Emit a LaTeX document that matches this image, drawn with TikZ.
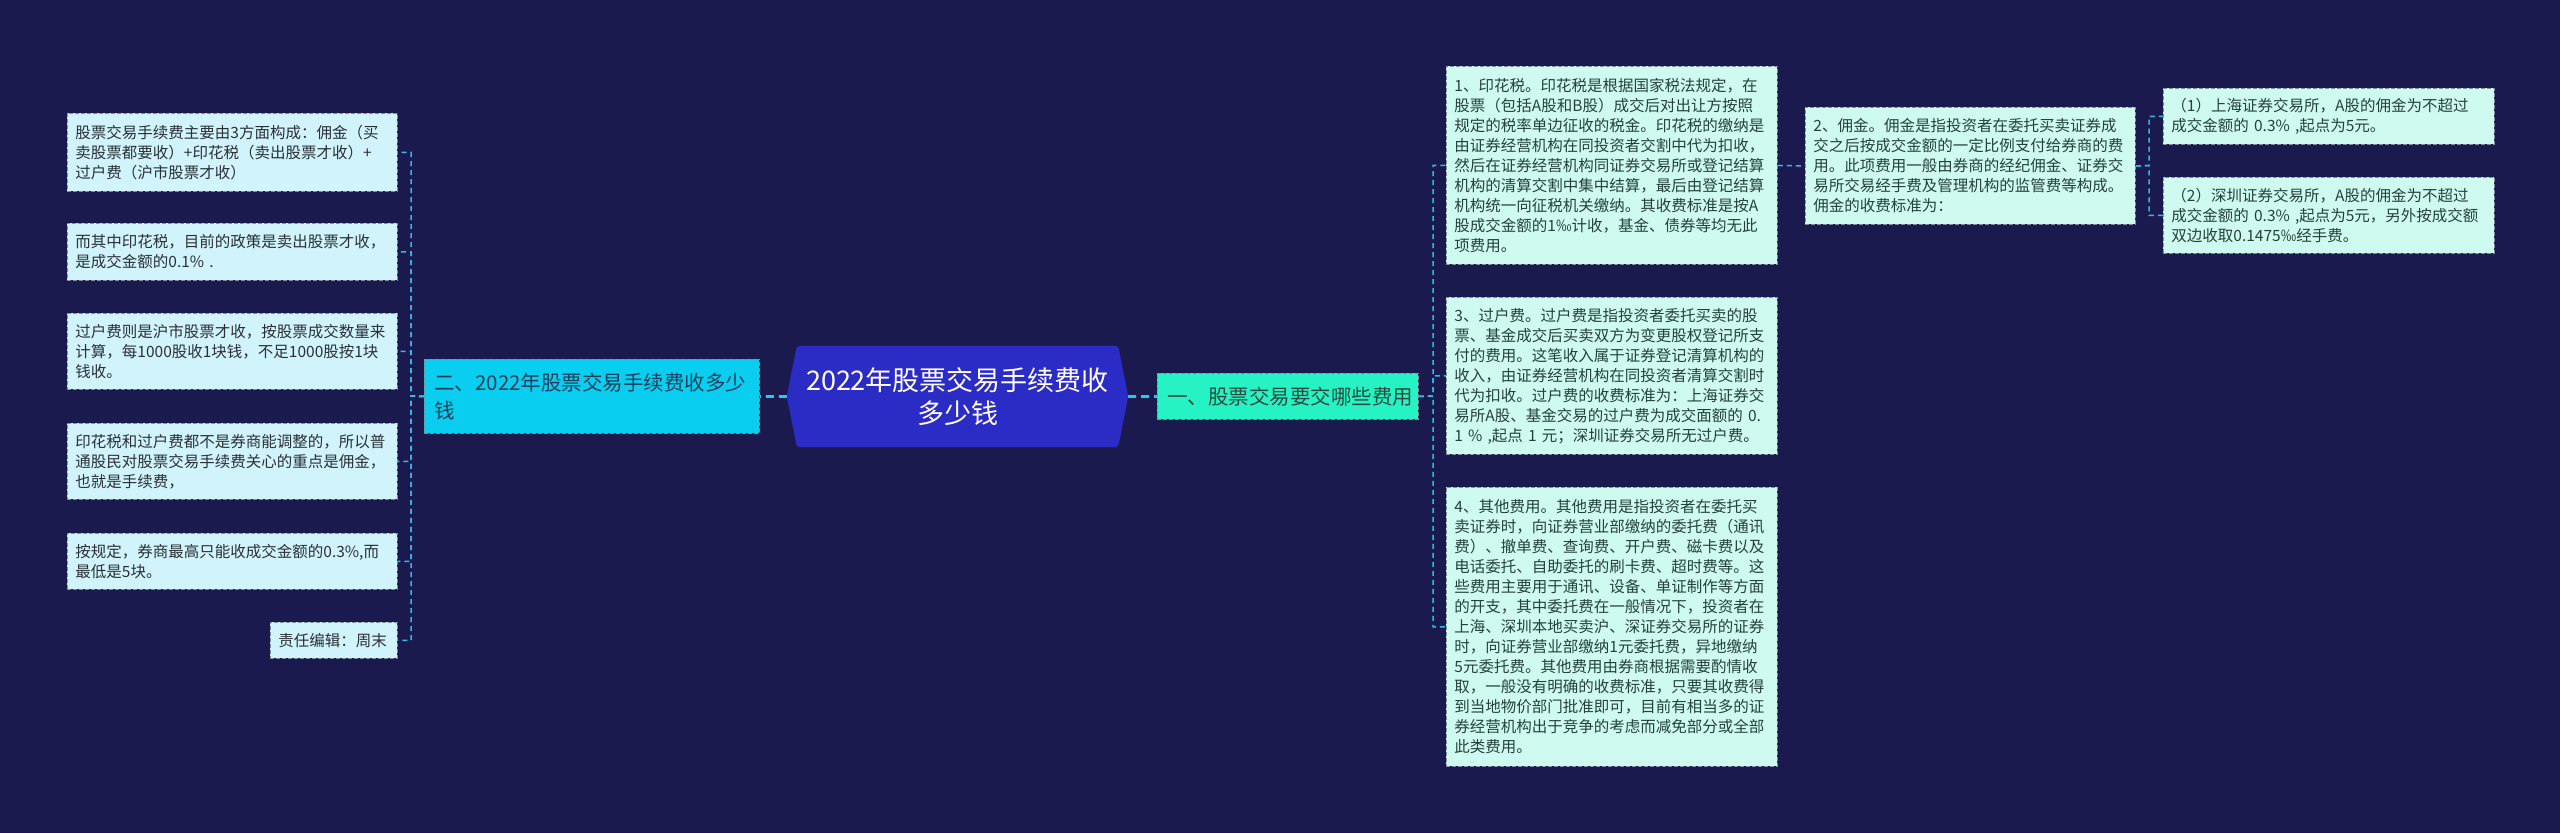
\documentclass[tikz,border=0pt]{standalone}
\usepackage{fontspec}
\setmainfont{Noto Sans CJK SC}
\usetikzlibrary{backgrounds}
\definecolor{bgc}{HTML}{1B1A4F}
\definecolor{rootc}{HTML}{2B2BC5}
\definecolor{lbc}{HTML}{0ACEEF}
\definecolor{rbc}{HTML}{26F3C4}
\definecolor{lfill}{HTML}{D0F3FC}
\definecolor{rfill}{HTML}{CEFAEF}
\definecolor{bordc}{HTML}{7F8E99}
\definecolor{connc}{HTML}{35B8E8}
\definecolor{mconnc}{HTML}{2AC8EE}
\definecolor{ltext}{HTML}{2A3036}
\definecolor{rtext}{HTML}{24423D}
\definecolor{lbtext}{HTML}{1E3D5C}
\definecolor{rbtext}{HTML}{2C4A40}
\tikzset{
  smallbox/.style={draw=bordc, line width=0.9pt, dash pattern=on 4pt off 2pt,
    anchor=north west, align=left, inner xsep=8pt, inner ysep=0pt,
    font=\fontsize{15.5}{20}\selectfont},
  lsmall/.style={smallbox, fill=lfill, text=ltext},
  rsmall/.style={smallbox, fill=rfill, text=rtext},
  branchbox/.style={draw=bordc, line width=0.9pt, dash pattern=on 4pt off 2pt,
    anchor=north west, align=left, inner xsep=10pt, inner ysep=0pt,
    font=\fontsize{20.5}{28}\selectfont},
  rootnode/.style={align=center, text=white, inner sep=0pt,
    font=\fontsize{27}{33}\selectfont},
  conn/.style={draw=connc, line width=1.5pt, dash pattern=on 5pt off 4pt},
  mainconn/.style={draw=mconnc, line width=2.8pt, dash pattern=on 8pt off 5pt},
}
\begin{document}
\begin{tikzpicture}[x=1pt,y=-1pt]
\useasboundingbox (0,0) rectangle (2560,833);
% root
\node[rootnode, minimum width=341pt, minimum height=101pt] (root) at (957.5,396.5)
  {2022年股票交易手续费收\\多少钱};
% branches
\node[branchbox, fill=lbc, text=lbtext, text width=315pt, minimum height=74pt] (LB) at (424,359)
  {二、2022年股票交易手续费收多少\\钱};
\node[branchbox, fill=rbc, text=rbtext, text width=241pt, minimum height=46pt] (RB) at (1157,373)
  {一、股票交易要交哪些费用};
% left column
\node[lsmall, text width=314pt, minimum height=78pt] (L1) at (67,113)
  {股票交易手续费主要由3方面构成：佣金（买\\卖股票都要收）+印花税（卖出股票才收）+\\过户费（沪市股票才收）};
\node[lsmall, text width=314pt, minimum height=57pt] (L2) at (67,223)
  {而其中印花税，目前的政策是卖出股票才收，\\是成交金额的0.1\% .};
\node[lsmall, text width=314pt, minimum height=76pt] (L3) at (67,313)
  {过户费则是沪市股票才收，按股票成交数量来\\计算，每1000股收1块钱，不足1000股按1块\\钱收。};
\node[lsmall, text width=314pt, minimum height=76pt] (L4) at (67,423)
  {印花税和过户费都不是券商能调整的，所以普\\通股民对股票交易手续费关心的重点是佣金，\\也就是手续费，};
\node[lsmall, text width=314pt, minimum height=56pt] (L5) at (67,533)
  {按规定，券商最高只能收成交金额的0.3\%,而\\最低是5块。};
\node[lsmall, text width=111pt, minimum height=36pt] (L6) at (270,622)
  {责任编辑：周末};
% right column
\node[rsmall, text width=315pt, minimum height=198pt] (R1) at (1446,66)
  {1、印花税。印花税是根据国家税法规定，在\\股票（包括A股和B股）成交后对出让方按照\\规定的税率单边征收的税金。印花税的缴纳是\\由证券经营机构在同投资者交割中代为扣收，\\然后在证券经营机构同证券交易所或登记结算\\机构的清算交割中集中结算，最后由登记结算\\机构统一向征税机关缴纳。其收费标准是按A\\股成交金额的1‰计收，基金、债券等均无此\\项费用。};
\node[rsmall, text width=315pt, minimum height=157pt] (R3) at (1446,297)
  {3、过户费。过户费是指投资者委托买卖的股\\票、基金成交后买卖双方为变更股权登记所支\\付的费用。这笔收入属于证券登记清算机构的\\收入，由证券经营机构在同投资者清算交割时\\代为扣收。过户费的收费标准为：上海证券交\\易所A股、基金交易的过户费为成交面额的 0.\\1 \% ,起点 1 元；深圳证券交易所无过户费。};
\node[rsmall, text width=315pt, minimum height=279pt] (R4) at (1446,487)
  {4、其他费用。其他费用是指投资者在委托买\\卖证券时，向证券营业部缴纳的委托费（通讯\\费）、撤单费、查询费、开户费、磁卡费以及\\电话委托、自助委托的刷卡费、超时费等。这\\些费用主要用于通讯、设备、单证制作等方面\\的开支，其中委托费在一般情况下，投资者在\\上海、深圳本地买卖沪、深证券交易所的证券\\时，向证券营业部缴纳1元委托费，异地缴纳\\5元委托费。其他费用由券商根据需要酌情收\\取，一般没有明确的收费标准，只要其收费得\\到当地物价部门批准即可，目前有相当多的证\\券经营机构出于竞争的考虑而减免部分或全部\\此类费用。};
\node[rsmall, text width=314pt, minimum height=117pt] (R2) at (1805,107)
  {2、佣金。佣金是指投资者在委托买卖证券成\\交之后按成交金额的一定比例支付给券商的费\\用。此项费用一般由券商的经纪佣金、证券交\\易所交易经手费及管理机构的监管费等构成。\\佣金的收费标准为：};
\node[rsmall, text width=315pt, minimum height=56pt] (R2a) at (2163,88)
  {（1）上海证券交易所，A股的佣金为不超过\\成交金额的 0.3\% ,起点为5元。};
\node[rsmall, text width=315pt, minimum height=76pt] (R2b) at (2163,177)
  {（2）深圳证券交易所，A股的佣金为不超过\\成交金额的 0.3\% ,起点为5元，另外按成交额\\双边收取0.1475‰经手费。};
% junctions
\coordinate (lj) at (411,396);
\coordinate (rj) at (1433,396);
\coordinate (r2j) at (2149,165.5);
% background + root shape
\begin{pgfonlayer}{background}
\fill[bgc] (0,0) rectangle (2560,833);
\fill[rootc, rounded corners=3pt] ([xshift=10pt]root.north west) -- ([xshift=-10pt]root.north east)
  -- (root.east) -- ([xshift=-10pt]root.south east) -- ([xshift=10pt]root.south west)
  -- (root.west) -- cycle;
\end{pgfonlayer}
% connectors
\draw[mainconn] (root.west) -- (LB.east);
\draw[mainconn] (root.east) -- (RB.west);
\foreach \n in {L1,L2,L3,L4,L5,L6} \draw[conn] (LB.west) -- (lj) |- (\n.east);
\foreach \n in {R1,R3,R4} \draw[conn] (RB.east) -- (rj) |- (\n.west);
\draw[conn] (R1.east) -- (R2.west);
\foreach \n in {R2a,R2b} \draw[conn] (R2.east) -- (r2j) |- (\n.west);
\end{tikzpicture}
\end{document}
